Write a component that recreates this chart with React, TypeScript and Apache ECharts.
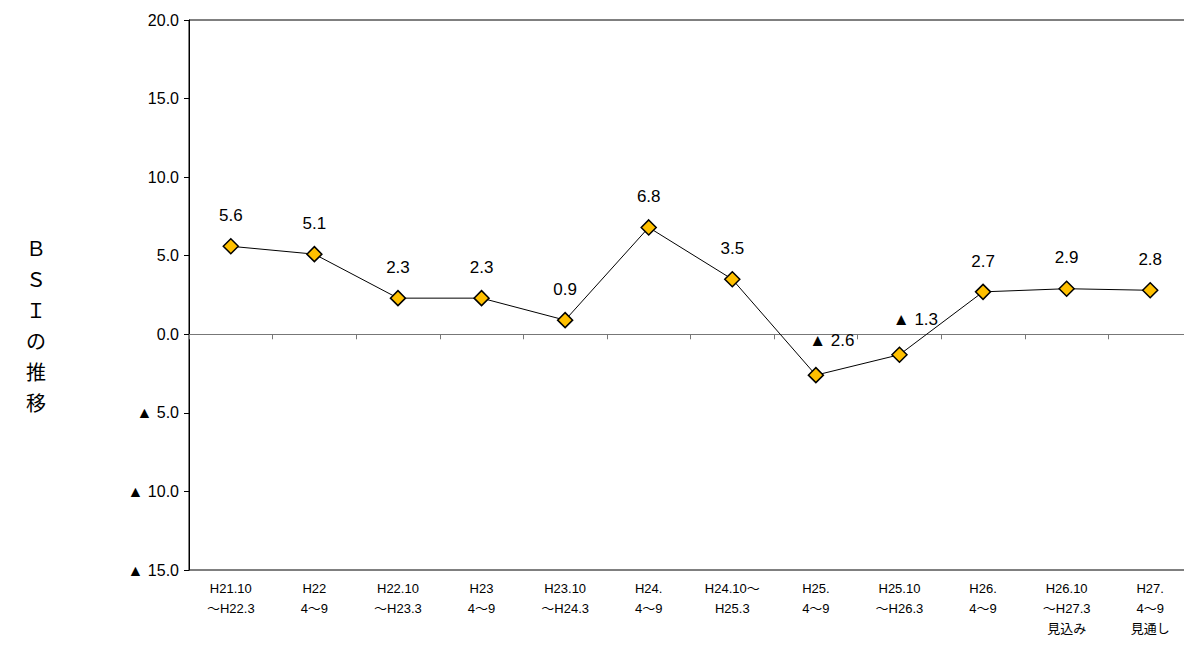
import React, { useEffect, useRef } from 'react';
import * as echarts from 'echarts';

const categories = [
  'H21.10\n～H22.3', 'H22\n4～9', 'H22.10\n～H23.3', 'H23\n4～9', 'H23.10\n～H24.3', 'H24.\n4～9',
  'H24.10～\nH25.3', 'H25.\n4～9', 'H25.10\n～H26.3', 'H26.\n4～9', 'H26.10\n～H27.3\n見込み', 'H27.\n4～9\n見通し',
];
const bsi = [5.6, 5.1, 2.3, 2.3, 0.9, 6.8, 3.5, -2.6, -1.3, 2.7, 2.9, 2.8];
const titleChars = ['Ｂ', 'Ｓ', 'Ｉ', 'の', '推', '移'];

const fmt = (v: number) => (v < 0 ? '▲ ' + Math.abs(v).toFixed(1) : v.toFixed(1));

const App: React.FC = () => {
  const chartRef = useRef<HTMLDivElement>(null);

  useEffect(() => {
    if (!chartRef.current) return;
    const chart = echarts.init(chartRef.current, null, { renderer: 'svg' });
    const font = 'Arial, "Liberation Sans", "Noto Sans CJK JP"';
    const option: echarts.EChartsOption = {
      animation: false,
      textStyle: { fontFamily: font },
      grid: { left: 189, right: 0, top: 20, bottom: 78, show: true, borderColor: '#000', borderWidth: 1 },
      graphic: [
        {
          type: 'text', left: 26, top: 232,
          style: { text: titleChars.join('\n'), fontSize: 20, lineHeight: 31, fill: '#000', fontFamily: '"Noto Sans CJK JP"' },
        },
      ],
      xAxis: [
        {
          type: 'category', data: categories, position: 'bottom',
          axisLine: { onZero: false, show: false }, axisTick: { show: false },
          axisLabel: { color: '#000', fontSize: 13, lineHeight: 20, interval: 0, margin: 8 },
        },
        {
          type: 'category', data: categories, position: 'bottom',
          axisLine: { onZero: true, lineStyle: { color: '#777' } },
          axisTick: { show: true, length: 5, lineStyle: { color: '#777' } },
          axisLabel: { show: false },
        },
      ],
      yAxis: {
        type: 'value', min: -15, max: 20, interval: 5,
        axisLine: { show: true, lineStyle: { color: '#000' } },
        axisTick: { show: true, length: 5, lineStyle: { color: '#000' } },
        splitLine: { show: false },
        axisLabel: { color: '#000', fontSize: 16, formatter: (v: number) => fmt(v), margin: 10 },
      },
      series: [
        {
          type: 'line', xAxisIndex: 0,
          data: bsi.map((v) =>
            v < 0 ? { value: v, label: { position: 'top', distance: 18, offset: [16, 0] } } : v,
          ),
          lineStyle: { color: '#000', width: 1 },
          symbol: 'diamond', symbolSize: 15,
          itemStyle: { color: '#FFC000', borderColor: '#000', borderWidth: 1.5 },
          label: {
            show: true, color: '#000', fontSize: 17,
            formatter: (p: any) => fmt(p.value),
            position: 'top', distance: 14,
          },
        },
      ],
    };
    chart.setOption(option);
    return () => chart.dispose();
  }, []);

  return <div ref={chartRef} style={{ width: 1192, height: 648, margin: -8 }} />;
};

export default App;
